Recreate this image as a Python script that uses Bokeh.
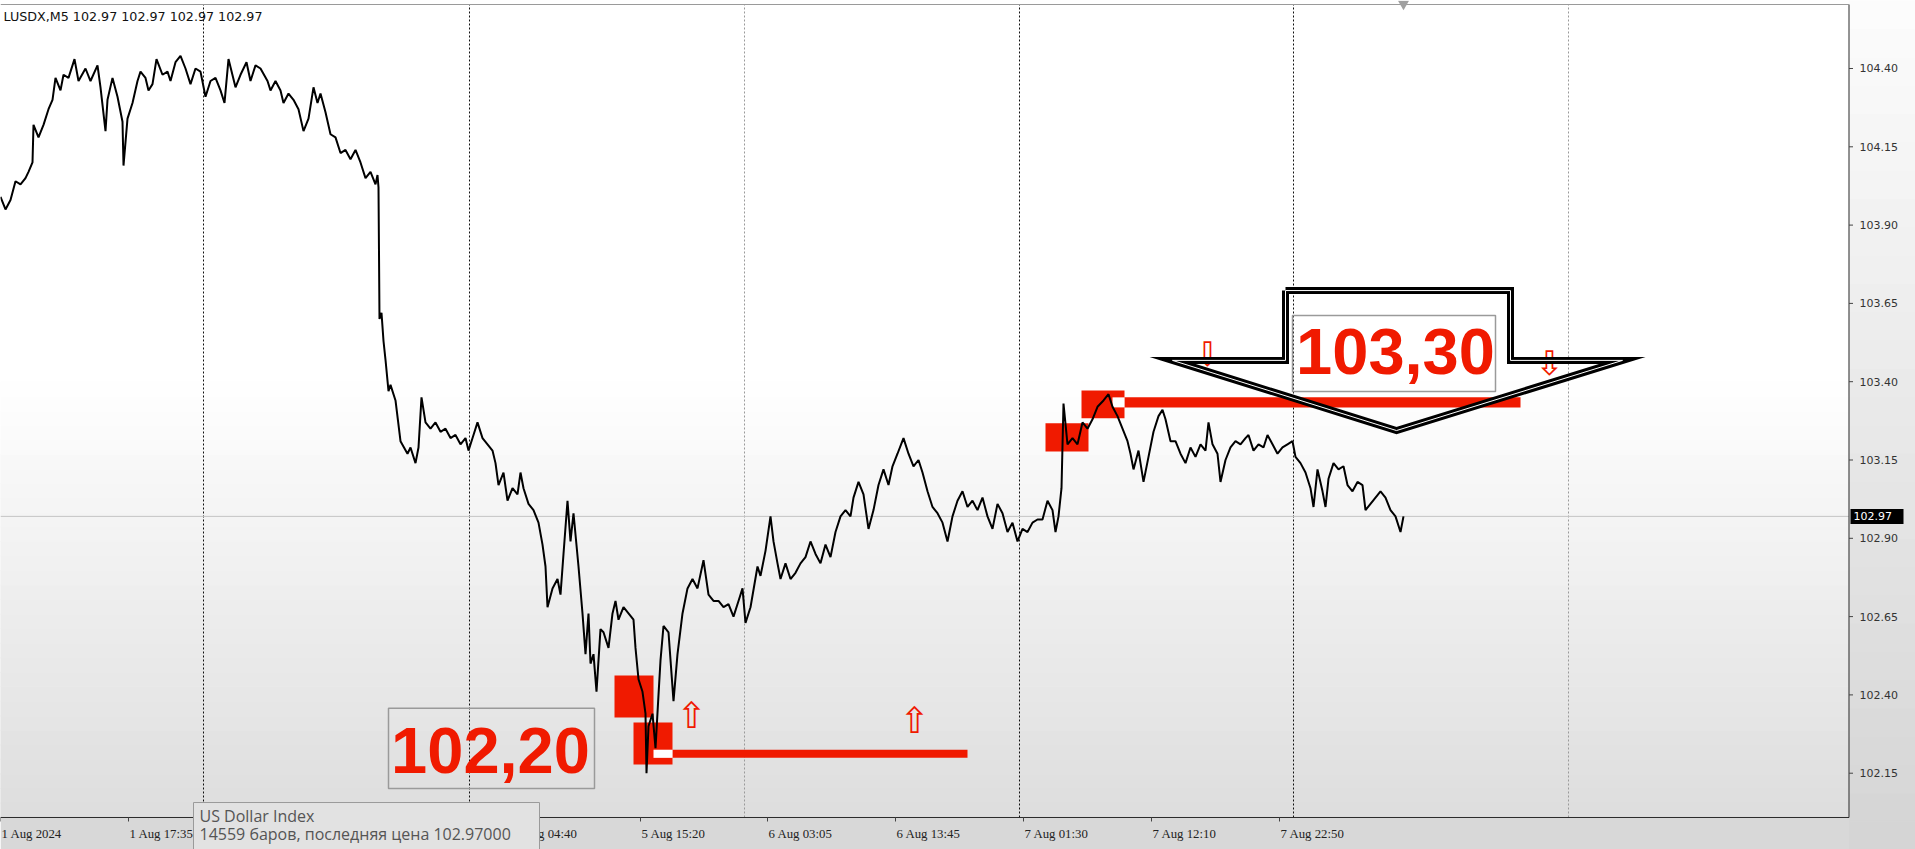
import numpy as np
from bokeh.plotting import figure
from bokeh.models import Range1d
from bokeh.core.properties import value
from bokeh.embed import file_html
from bokeh.resources import INLINE

# ---------------- data ----------------
chart_title = "LUSDX,M5  102.97 102.97 102.97 102.97"
tooltip_lines = ["US Dollar Index", "14559 баров, последняя цена 102.97000"]

# bar index (5-minute bars) and price
bars = [0, 5, 10, 15, 20, 25, 28, 32, 33, 38, 43, 48, 52, 55, 60, 63, 68, 74, 78, 85, 90, 97, 100,
        105, 107, 112, 117, 122, 123, 127, 132, 137, 140, 145, 148, 152, 156, 162, 167, 170, 175,
        180, 185, 190, 195, 200, 205, 210, 215, 220, 224, 228, 235, 240, 246, 250, 255, 260, 267,
        270, 275, 280, 283, 288, 293, 298, 303, 308, 313, 317, 320, 325, 330, 335, 340, 345, 350,
        355, 360, 365, 370, 375, 377, 378, 379, 381, 383, 385, 388,
        390, 395, 400, 407, 410, 415, 418, 421, 425, 430, 435, 440, 445, 450, 455, 460, 465, 468,
        473, 477, 482, 487, 492, 495, 498, 503, 507, 512, 517, 520, 523, 528, 533, 538, 542, 545,
        547, 552, 557, 560, 563, 567, 570, 573, 578, 582, 585, 588, 590, 593, 596, 600, 603, 608,
        612, 615, 618, 623, 628, 633, 635, 638, 642, 645, 646, 648, 652, 655, 658, 660, 663, 668,
        673, 677, 682, 687, 692, 697, 703, 708, 713, 718, 723, 728, 733, 738, 742, 745, 750, 757,
        760,
        765, 770, 773, 777, 780, 785, 790, 795, 800, 805, 810, 815, 820, 825, 830, 835, 840, 845,
        850, 853, 858, 863, 868, 873, 878, 883, 888, 892, 897, 903, 908, 913, 918, 922, 927, 932,
        937, 942, 947, 952, 957, 962, 967, 972, 977, 982, 987, 992, 997, 1002, 1007, 1012, 1017,
        1022, 1027, 1032, 1037, 1042, 1047, 1052, 1055, 1058, 1061, 1063, 1067, 1072, 1077, 1082,
        1087, 1092, 1097, 1103, 1108, 1112, 1117, 1122, 1127, 1130, 1133, 1138, 1143, 1148, 1153,
        1158, 1162, 1165, 1170, 1175, 1180, 1185, 1190, 1195, 1200, 1205, 1208, 1212, 1217, 1220,
        1225, 1230, 1235, 1240, 1245, 1248, 1253, 1258, 1263, 1267, 1272, 1277, 1282, 1287, 1292,
        1295, 1300, 1305, 1310, 1313, 1317, 1322, 1325, 1328, 1333, 1338, 1343, 1347, 1352, 1357,
        1362, 1365, 1370, 1375, 1380, 1385, 1390, 1395, 1400, 1403]

prices = [103.99, 103.95, 103.98, 104.04, 104.03, 104.05, 104.07, 104.10, 104.22, 104.18, 104.22,
          104.27, 104.30, 104.37, 104.33, 104.38, 104.37, 104.43, 104.36, 104.40, 104.36, 104.41,
          104.34, 104.20, 104.30, 104.37, 104.31, 104.23, 104.09, 104.24, 104.29, 104.36, 104.39,
          104.37, 104.33, 104.35, 104.43, 104.38, 104.39, 104.36, 104.42, 104.44, 104.40, 104.35,
          104.40, 104.39, 104.31, 104.36, 104.37, 104.33, 104.29, 104.43, 104.34, 104.38, 104.42,
          104.36, 104.41, 104.40, 104.36, 104.33, 104.36, 104.33, 104.29, 104.32, 104.30, 104.27,
          104.20, 104.24, 104.34, 104.29, 104.32, 104.26, 104.19, 104.18, 104.13, 104.14, 104.11,
          104.14, 104.10, 104.05, 104.07, 104.03, 104.06, 104.02, 103.60, 103.62, 103.53, 103.47,
          103.37,
          103.39, 103.34, 103.21, 103.17, 103.19, 103.14, 103.19, 103.35, 103.27, 103.25, 103.27,
          103.24, 103.25, 103.22, 103.23, 103.20, 103.22, 103.18, 103.23, 103.27, 103.22, 103.20,
          103.18, 103.14, 103.07, 103.11, 103.02, 103.06, 103.04, 103.11, 103.06, 103.01, 102.99,
          102.95, 102.88, 102.81, 102.68, 102.74, 102.77, 102.72, 102.85, 103.02, 102.89, 102.98,
          102.81, 102.66, 102.53, 102.66, 102.50, 102.53, 102.41, 102.61, 102.60, 102.55, 102.66,
          102.70, 102.64, 102.68, 102.66, 102.64, 102.55, 102.45, 102.41, 102.34, 102.15, 102.30,
          102.34, 102.23, 102.40, 102.51, 102.62, 102.60, 102.38, 102.53, 102.66, 102.74, 102.77,
          102.74, 102.83, 102.72, 102.70, 102.70, 102.68, 102.69, 102.65, 102.70, 102.74, 102.63,
          102.68, 102.81, 102.78,
          102.86, 102.97, 102.89, 102.82, 102.77, 102.82, 102.77, 102.79, 102.82, 102.84, 102.89,
          102.85, 102.82, 102.88, 102.84, 102.92, 102.97, 102.99, 102.97, 103.03, 103.08, 103.04,
          102.93, 102.99, 103.07, 103.12, 103.07, 103.13, 103.17, 103.22, 103.17, 103.13, 103.15,
          103.11, 103.05, 103.00, 102.98, 102.95, 102.89, 102.97, 103.02, 103.05, 103.00, 103.02,
          102.99, 103.03, 102.97, 102.93, 103.01, 102.98, 102.92, 102.95, 102.89, 102.93, 102.92,
          102.95, 102.96, 102.96, 103.02, 102.99, 102.92, 102.97, 103.06, 103.33, 103.20, 103.22,
          103.20, 103.27, 103.25, 103.28, 103.32, 103.34, 103.36, 103.32, 103.29, 103.25, 103.21,
          103.17, 103.12, 103.18, 103.08, 103.16, 103.24, 103.29, 103.31, 103.28, 103.21, 103.21,
          103.17, 103.14, 103.19, 103.16, 103.20, 103.18, 103.27, 103.20, 103.17, 103.08, 103.15,
          103.19, 103.21, 103.20, 103.22, 103.23, 103.18, 103.20, 103.19, 103.23, 103.20, 103.17,
          103.19, 103.20, 103.21, 103.16, 103.14, 103.11, 103.06, 103.00, 103.12, 103.05, 103.00,
          103.09, 103.14, 103.12, 103.13, 103.07, 103.05, 103.08, 103.07, 102.99, 103.01, 103.03,
          103.05, 103.03, 102.99, 102.97, 102.92, 102.97]

last_price = 102.97

x_tick_bars = [0, 128, 256, 384, 512, 640, 767, 895, 1023, 1151, 1279]
x_tick_labels = ["1 Aug 2024", "1 Aug 17:35", "2 Aug 04:15", "2 Aug 14:55", "5 Aug 04:40",
                 "5 Aug 15:20", "6 Aug 03:05", "6 Aug 13:45", "7 Aug 01:30", "7 Aug 12:10",
                 "7 Aug 22:50"]
y_ticks = [102.15, 102.40, 102.65, 102.90, 103.15, 103.40, 103.65, 103.90, 104.15, 104.40]
y_tick_labels = [f"{t:.2f}" for t in y_ticks]

separator_bars = [203, 469, 744, 1019, 1293, 1568]
separator_colors = ["#111111", "#111111", "#9a9a9a", "#111111", "#111111", "#9a9a9a"]

# red zones (bar range, price range)
zone_left = [614, 633, 1045, 1081]
zone_right = [653, 672, 1088, 1124]
zone_top = [102.462, 102.312, 103.267, 103.372]
zone_bottom = [102.328, 102.178, 103.177, 103.283]

# level lines (thick bars) and the white gaps inside the zones
level_left = [672, 1124]
level_right = [967, 1520]
level_top = [102.225, 103.350]
level_bottom = [102.199, 103.318]
gap_left = [653, 1112]
gap_right = [672, 1124]

# level text boxes
box_text = ["102,20", "103,30"]
box_left = [388, 1292]
box_right = [594, 1495]
box_top = [102.357, 103.611]
box_bottom = [102.101, 103.369]
box_text_x = [490, 1395]
box_text_top = [102.294, 103.567]

# small hollow arrows
up_arrow_x = [691, 914]
up_arrow_y = [102.334, 102.318]
down_arrow_x = [1207, 1549]
down_arrow_y = [103.490, 103.461]

# big hand-drawn down arrow
big_arrow_x = [1285, 1510, 1510, 1622, 1396, 1172, 1285, 1285]
big_arrow_y = [103.691, 103.691, 103.468, 103.468, 103.244, 103.468, 103.468, 103.691]

# ---------------- layout constants (chart window geometry) ----------------
RED = "#f01a00"
FRAME_RIGHT = 1848.5          # bar units
PRICE_TOP = 104.6043          # top edge of the chart window
PRICE_BOTTOM = 102.0086       # bottom edge of the chart window
Y_MIN, Y_MAX = 101.9064, 104.6171
X_MAX = 1915
PX = 1.0 / 313.2              # one pixel in price units

p = figure(width=1915, height=849,
           x_range=Range1d(0, X_MAX), y_range=Range1d(Y_MIN, Y_MAX),
           output_backend="svg", toolbar_location=None,
           x_axis_location=None, y_axis_location=None,
           min_border_left=0, min_border_right=0, min_border_top=0, min_border_bottom=0,
           background_fill_color="#ffffff", border_fill_color="#ffffff",
           outline_line_color=None, margin=(0, 0, 0, 0))
p.xgrid.visible = False
p.ygrid.visible = False

# ---- background shading (style only) ----
edges = np.linspace(PRICE_BOTTOM, 103.40, 31)
frac = (edges[:-1] - PRICE_BOTTOM) / (103.40 - PRICE_BOTTOM)
cols = ["#" + f"{int(round(222 + 33 * f)):02x}" * 3 for f in frac]
p.quad(left=0, right=FRAME_RIGHT, bottom=edges[:-1], top=edges[1:], fill_color=cols,
       line_color=cols, line_width=1)

edges_r = np.linspace(Y_MIN, Y_MAX, 31)
frac_r = (edges_r[:-1] - Y_MIN) / (Y_MAX - Y_MIN)
cols_r = ["#" + f"{int(round(213 + 40 * f)):02x}" * 3 for f in frac_r]
p.quad(left=FRAME_RIGHT, right=X_MAX, bottom=edges_r[:-1], top=edges_r[1:], fill_color=cols_r,
       line_color=cols_r, line_width=1)
p.quad(left=0, right=FRAME_RIGHT, bottom=Y_MIN, top=PRICE_BOTTOM, fill_color="#d8d8d8",
       line_color=None)

# ---- period separators and bid line ----
p.segment(x0=separator_bars, x1=separator_bars, y0=PRICE_BOTTOM, y1=PRICE_TOP,
          line_color=separator_colors, line_width=1, line_dash="2 2")
p.segment(x0=0, x1=FRAME_RIGHT, y0=last_price, y1=last_price, line_color="#c4c4c4", line_width=1)

# ---- red zones and levels ----
p.quad(left=zone_left, right=zone_right, top=zone_top, bottom=zone_bottom,
       fill_color=RED, line_color=None)
p.quad(left=level_left, right=level_right, top=level_top, bottom=level_bottom,
       fill_color=RED, line_color=None)
p.quad(left=gap_left, right=gap_right, top=level_top, bottom=level_bottom,
       fill_color="#ffffff", line_color=None)

# ---- price line ----
p.line(bars, prices, line_color="#000000", line_width=2)

# ---- level text boxes ----
p.quad(left=box_left, right=box_right, top=box_top, bottom=box_bottom,
       fill_color=None, line_color="#9a9a9a", line_width=1.5)
p.text(x=box_text_x, y=box_text_top, text=box_text, text_color=RED,
       text_font=value("Liberation Sans"), text_font_style="bold",
       text_font_size="65px", text_align="center", text_baseline="top")

# ---- hollow arrows ----
p.text(x=up_arrow_x, y=up_arrow_y, text=["\u21e7"] * len(up_arrow_x), text_color=RED,
       text_font=value("DejaVu Sans"), text_font_size="36px",
       text_align="center", text_baseline="middle")
p.text(x=down_arrow_x, y=down_arrow_y, text=["\u21e9"] * len(down_arrow_x), text_color=RED,
       text_font=value("DejaVu Sans"), text_font_size="34px",
       text_align="center", text_baseline="middle")

# ---- big black arrow ----
p.line(big_arrow_x, big_arrow_y, line_color="#000000", line_width=7, line_join="miter")
p.line(big_arrow_x, big_arrow_y, line_color="#ffffff", line_width=1, line_join="miter")

# ---- chart window frame ----
p.segment(x0=[FRAME_RIGHT, 0, 0], x1=[FRAME_RIGHT, FRAME_RIGHT, FRAME_RIGHT],
          y0=[PRICE_BOTTOM, PRICE_BOTTOM, PRICE_TOP], y1=[PRICE_TOP, PRICE_BOTTOM, PRICE_TOP],
          line_color=["#2a2a2a", "#2a2a2a", "#9a9a9a"], line_width=1)

# ---- price scale (right) ----
p.segment(x0=[FRAME_RIGHT] * len(y_ticks), x1=[FRAME_RIGHT + 4] * len(y_ticks),
          y0=y_ticks, y1=y_ticks, line_color="#444444", line_width=1)
p.text(x=[1859] * len(y_ticks), y=y_ticks, text=y_tick_labels, text_color="#333333",
       text_font=value("DejaVu Sans"), text_font_size="11px",
       text_align="left", text_baseline="middle")

# ---- time scale (bottom) ----
p.segment(x0=x_tick_bars, x1=x_tick_bars, y0=[PRICE_BOTTOM] * len(x_tick_bars),
          y1=[PRICE_BOTTOM - 4 * PX] * len(x_tick_bars), line_color="#444444", line_width=1)
p.text(x=[b + 1 for b in x_tick_bars], y=[101.9543] * len(x_tick_bars), text=x_tick_labels,
       text_color="#222222", text_font=value("Liberation Sans Narrow"),
       text_font_size="12.8px", text_align="left", text_baseline="middle")

# ---- last price marker ----
p.quad(left=[1850], right=[1903], top=[last_price + 7.5 * PX], bottom=[last_price - 7.5 * PX],
       fill_color="#000000", line_color=None)
p.text(x=[1853], y=[last_price], text=[f"{last_price:.2f}"], text_color="#ffffff",
       text_font=value("DejaVu Sans"), text_font_size="11px",
       text_align="left", text_baseline="middle")

# ---- title ----
p.text(x=[3], y=[104.59], text=[chart_title], text_color="#111111",
       text_font=value("DejaVu Sans"), text_font_size="12.7px",
       text_align="left", text_baseline="top")

# ---- shift marker at top ----
p.scatter(x=[bars[-1]], y=[104.606], marker="inverted_triangle", size=11,
          fill_color="#a0a0a0", line_color=None)

# ---- info box ----
p.quad(left=[193], right=[539], top=[102.0564], bottom=[Y_MIN - 0.05],
       fill_color="#e2e2e2", line_color="#9a9a9a", line_width=1)
p.text(x=[199, 199], y=[102.0470, 101.9926], text=tooltip_lines, text_color="#555555",
       text_font=value("Open Sans"), text_font_size="16px",
       text_align="left", text_baseline="top")

open("out.html", "w").write(file_html(p, INLINE))
